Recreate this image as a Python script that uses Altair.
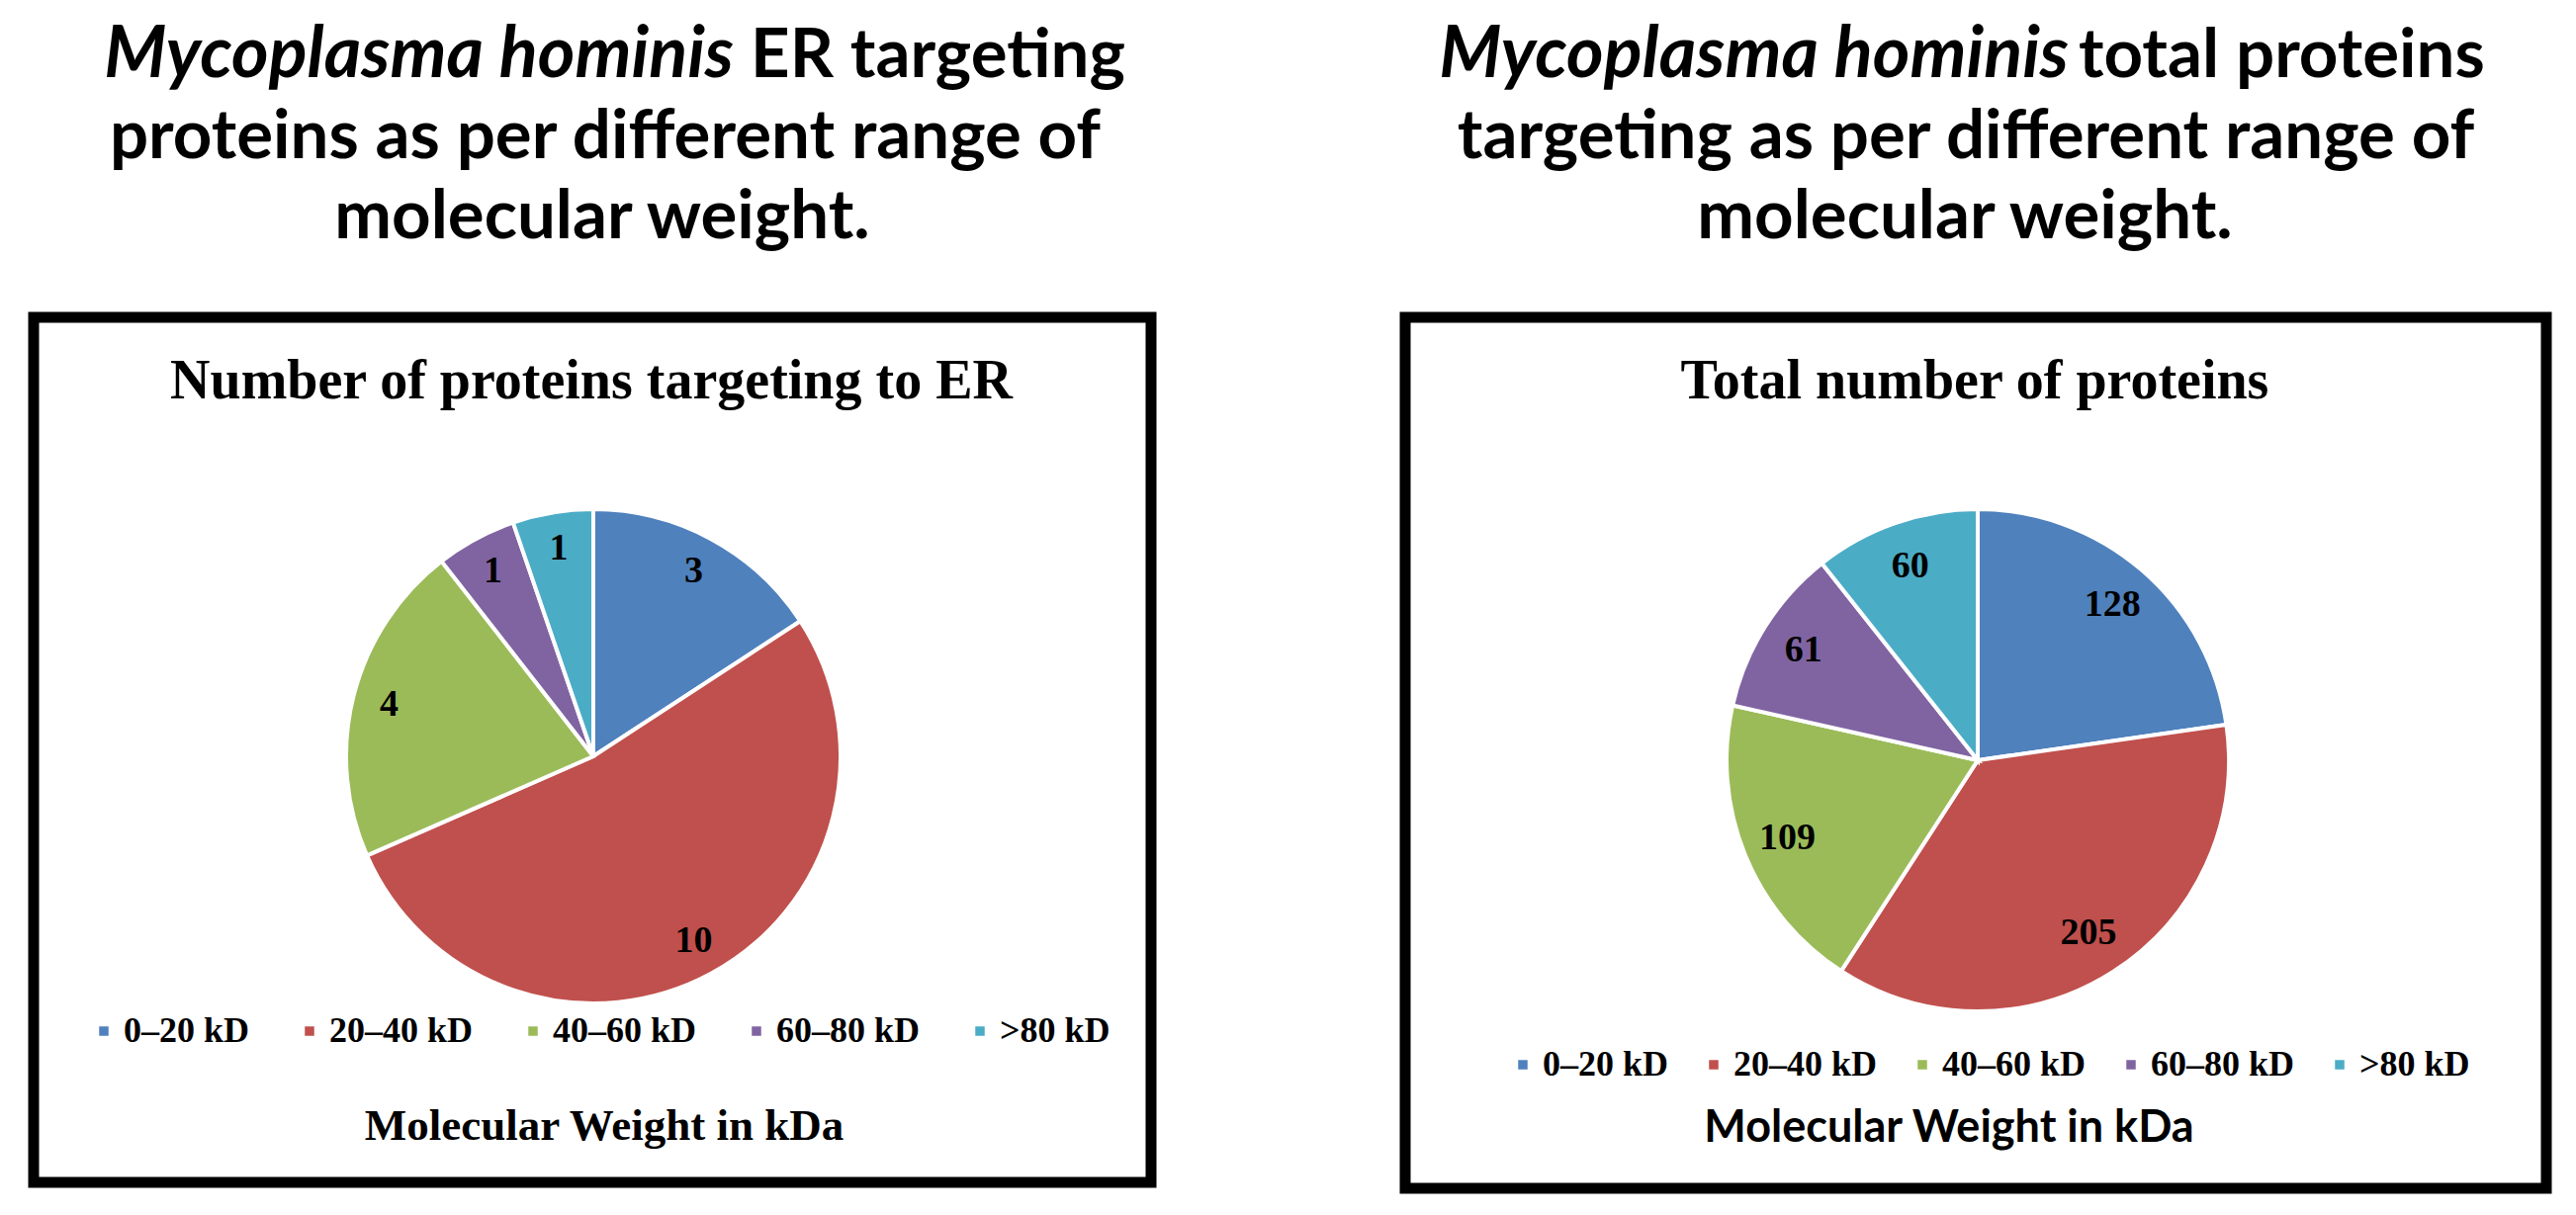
import altair as alt
import pandas as pd

# ---------------- data ----------------
categories = ["0–20 kD", "20–40 kD", "40–60 kD", "60–80 kD", ">80 kD"]
colors = ["#4F81BD", "#C0504D", "#9BBB59", "#8064A2", "#4BACC6"]
er_counts = [3, 10, 4, 1, 1]
total_counts = [128, 205, 109, 61, 60]

left_heading_italic = "Mycoplasma hominis"
left_heading = ["ER targeting", "proteins as per different range of", "molecular weight."]
right_heading_italic = "Mycoplasma hominis"
right_heading = ["total proteins", "targeting as per different range of", "molecular weight."]
left_chart_title = "Number of proteins targeting to ER"
right_chart_title = "Total number  of proteins"
legend_caption = "Molecular Weight  in kDa"

W, H = 2585, 1205
SERIF = "Liberation Serif"
SANS = "Lato"


def text_layer(txt, x, y, font, size, align="center", style="normal",
               weight="bold", baseline="alphabetic"):
    return alt.Chart(pd.DataFrame({"t": [txt]})).mark_text(
        font=font, fontSize=size, fontWeight=weight, fontStyle=style,
        align=align, baseline=baseline, color="black"
    ).encode(text="t:N", x=alt.value(x), y=alt.value(y))


def box_layer(x1, x2, y1, y2):
    return alt.Chart(pd.DataFrame({"b": [1]})).mark_rect(
        fill="white", stroke="black", strokeWidth=11
    ).encode(x=alt.value(x1), x2=alt.value(x2), y=alt.value(y1), y2=alt.value(y2))


def pie(counts, cx, cy, r, label_r, lx, ly, colpad):
    df = pd.DataFrame({"range": categories, "count": counts, "idx": list(range(len(categories)))})
    base = alt.Chart(df).encode(
        theta=alt.Theta("count:Q", stack=True),
        order=alt.Order("idx:Q"),
        x=alt.value(cx),
        y=alt.value(cy),
    )
    arcs = base.mark_arc(radius=r, stroke="white", strokeWidth=4).encode(
        color=alt.Color(
            "range:N",
            scale=alt.Scale(domain=categories, range=colors),
            legend=alt.Legend(
                orient="none", legendX=lx, legendY=ly, direction="horizontal",
                columns=5, title=None, symbolType="square", symbolSize=90,
                symbolStrokeWidth=0, labelFont=SERIF, labelFontWeight="bold",
                labelFontSize=36, labelColor="black", labelOffset=2,
                columnPadding=colpad, padding=0, labelLimit=400,
            ),
        )
    )
    labels = base.mark_text(
        radius=label_r, font=SERIF, fontWeight="bold", fontSize=38,
        color="black", align="center", baseline="middle"
    ).encode(text="count:Q", detail="range:N")
    return alt.layer(arcs, labels)


HS = 69   # heading size
HI = 72   # italic heading size
L1 = 70   # baseline of first heading line
layers = [
    box_layer(26, 1156, 313, 1188),
    box_layer(1413, 2567, 313, 1194),
    # top headings (left)
    text_layer(left_heading_italic, 734, L1, SANS, HI, align="right", style="italic"),
    text_layer(left_heading[0], 751, L1, SANS, HS, align="left"),
    text_layer(left_heading[1], 604, 152, SANS, HS),
    text_layer(left_heading[2], 601, 233, SANS, HS),
    # top headings (right)
    text_layer(right_heading_italic, 2084, L1, SANS, HI, align="right", style="italic"),
    text_layer(right_heading[0], 2094, L1, SANS, HS, align="left"),
    text_layer(right_heading[1], 1980, 152, SANS, HS),
    text_layer(right_heading[2], 1979, 233, SANS, HS),
    # chart titles
    text_layer(left_chart_title, 590, 395, SERIF, 56),
    text_layer(right_chart_title, 1989, 395, SERIF, 56),
    # captions under legends
    text_layer(legend_caption, 603, 1145, SERIF, 45),
    text_layer(legend_caption, 1963, 1147, SANS, 45),
    pie(er_counts, 592, 757, 250, 213, 79, 1017, 42),
    pie(total_counts, 1992, 761, 254, 208, 1514, 1051, 27),
]

chart = alt.layer(*layers).resolve_scale(
    theta="independent", color="independent"
).properties(
    width=W, height=H, padding=0,
    autosize=alt.AutoSizeParams(type="none"),
    background="white",
).configure_view(stroke=None)

chart.save("out.html", embed_options={"renderer": "svg", "actions": False})
